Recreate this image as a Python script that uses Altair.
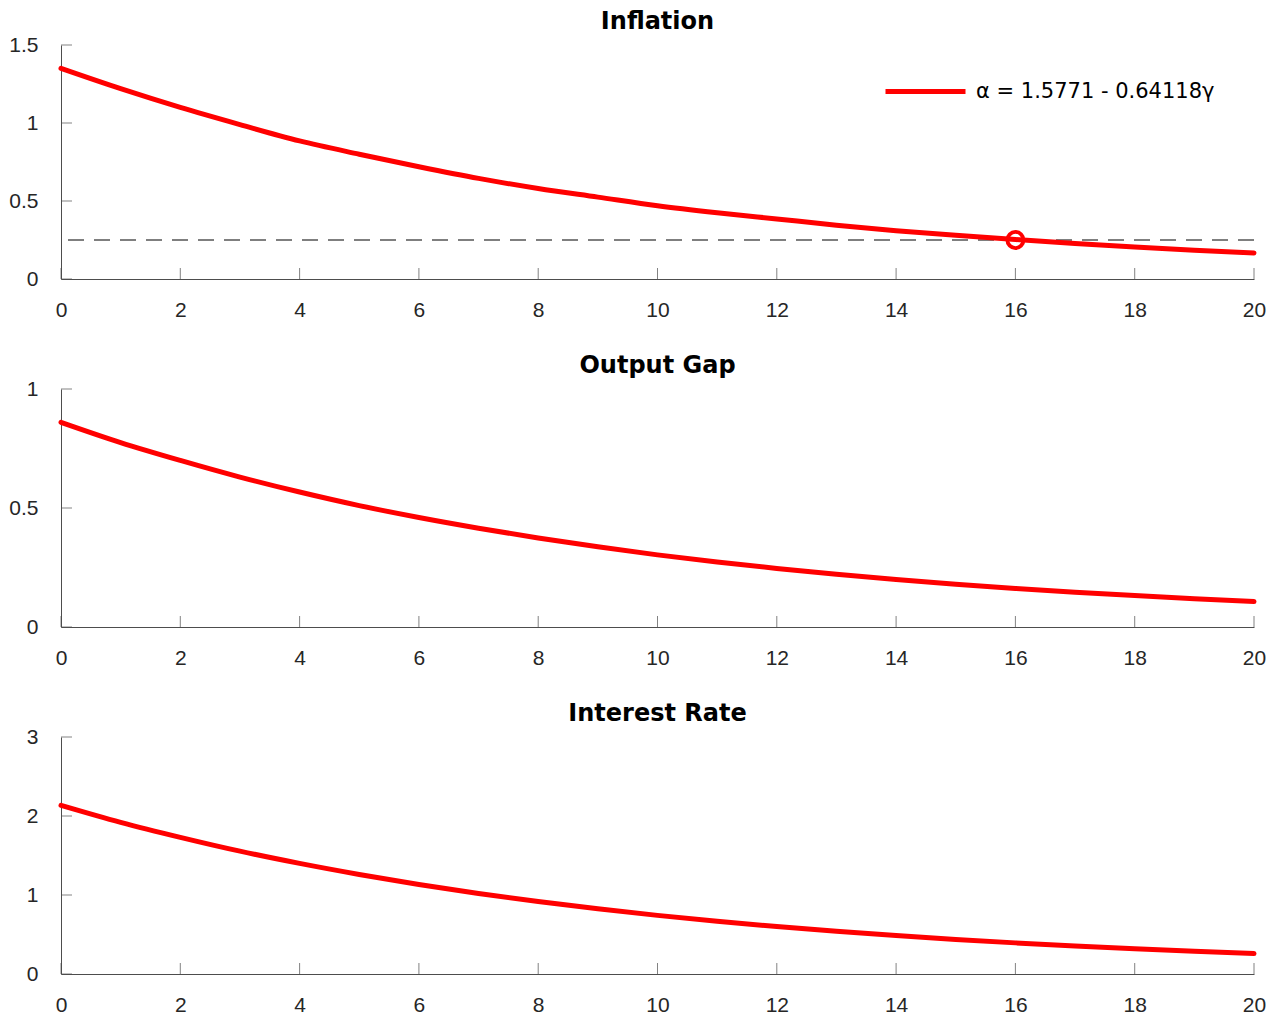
import altair as alt
import pandas as pd

# ---- data ----
periods = list(range(21))
inflation = [1.35, 1.22, 1.10, 0.99, 0.885, 0.80, 0.72, 0.645, 0.58, 0.525, 0.47,
             0.425, 0.385, 0.345, 0.31, 0.28, 0.253, 0.228, 0.205, 0.185, 0.167]
output_gap = [0.86, 0.775, 0.70, 0.63, 0.567, 0.51, 0.46, 0.415, 0.374, 0.337, 0.303,
              0.273, 0.246, 0.222, 0.200, 0.180, 0.162, 0.146, 0.132, 0.119, 0.107]
interest_rate = [2.135, 1.92, 1.73, 1.555, 1.40, 1.26, 1.133, 1.02, 0.917, 0.825, 0.742,
                 0.668, 0.601, 0.541, 0.487, 0.438, 0.394, 0.354, 0.319, 0.287, 0.258]
target_level = [0.25]
hit_period = [16]
hit_value = [0.25]
legend_label = "α = 1.5771 - 0.64118γ"
x_ticks = list(range(0, 21, 2))
titles = ["Inflation", "Output Gap", "Interest Rate"]
y_min = 0
y_max = [1.5, 1.0, 3.0]
y_ticks = [[0, 0.5, 1, 1.5], [0, 0.5, 1], [0, 1, 2, 3]]

RED = "#ff0000"
AX = "#4d4d4d"
W = 1193
HEIGHTS = [234, 238, 237]


def panel(title, values, ymax, yt, h, first=False):
    df = pd.DataFrame({"t": periods, "v": values, "series": [legend_label] * len(periods)})
    xs = alt.Scale(domain=[0, 20], nice=False)
    ys = alt.Scale(domain=[y_min, ymax], nice=False)
    xa = alt.Axis(values=x_ticks, title=None, labelPadding=20, format="~g", labelFlush=False)
    ya = alt.Axis(values=yt, title=None, format="~g", labelPadding=23)

    def X():
        return alt.X("t:Q", scale=xs, axis=xa)

    def Y():
        return alt.Y("v:Q", scale=ys, axis=ya)

    if first:
        color = alt.Color("series:N", scale=alt.Scale(range=[RED]),
                          legend=alt.Legend(orient="none", legendX=822, legendY=4,
                                            title=None, symbolType="stroke",
                                            symbolSize=6400, symbolStrokeWidth=5,
                                            labelOffset=8, padding=0, labelLimit=500,
                                            labelFont="DejaVu Sans",
                                            labelFontSize=21, labelColor="#000000"))
    else:
        color = alt.value(RED)
    line = alt.Chart(df).mark_line(strokeWidth=5, strokeCap="round",
                                   interpolate="monotone").encode(x=X(), y=Y(), color=color)
    xt = alt.Chart(pd.DataFrame({"t": x_ticks, "v": [y_min] * len(x_ticks)})).mark_tick(
        orient="vertical", size=11, thickness=1, color=AX, yOffset=-5.5
    ).encode(x=X(), y=Y())
    ytk = alt.Chart(pd.DataFrame({"v": yt, "t": [0] * len(yt)})).mark_tick(
        orient="horizontal", size=11, thickness=1, color=AX, xOffset=5.5
    ).encode(y=Y(), x=X())
    layers = [line]
    if first:
        rule = alt.Chart(pd.DataFrame({"v": target_level})).mark_rule(
            color="#555555", strokeWidth=1.3, strokeDash=[16, 10]
        ).encode(y=Y())
        layers.insert(0, rule)
    layers += [xt, ytk]
    if first:
        pt = alt.Chart(pd.DataFrame({"t": hit_period, "v": hit_value})).mark_point(
            shape="circle", filled=False, color=RED, strokeWidth=3.8, size=260, opacity=1
        ).encode(x=X(), y=Y())
        layers.append(pt)
    return alt.layer(*layers).properties(
        width=W, height=h,
        title=alt.TitleParams(title, font="DejaVu Sans", fontSize=24, fontWeight="bold",
                              color="#000000", anchor="middle", offset=0)
    )


p1 = panel(titles[0], inflation, y_max[0], y_ticks[0], HEIGHTS[0], first=True)
p2 = panel(titles[1], output_gap, y_max[1], y_ticks[1], HEIGHTS[1])
p3 = panel(titles[2], interest_rate, y_max[2], y_ticks[2], HEIGHTS[2])

chart = alt.vconcat(p1, p2, p3, spacing=34).resolve_legend(color="independent").properties(
    padding={"left": 0, "top": 2, "right": 0, "bottom": 0},
    background="white"
).configure_view(stroke=None).configure_axis(
    grid=False, ticks=False, domainColor=AX, domainWidth=1,
    labelFont="Liberation Sans", labelFontSize=21, labelColor="#262626"
)

chart.save("out.html", embed_options={"renderer": "svg", "actions": False})
